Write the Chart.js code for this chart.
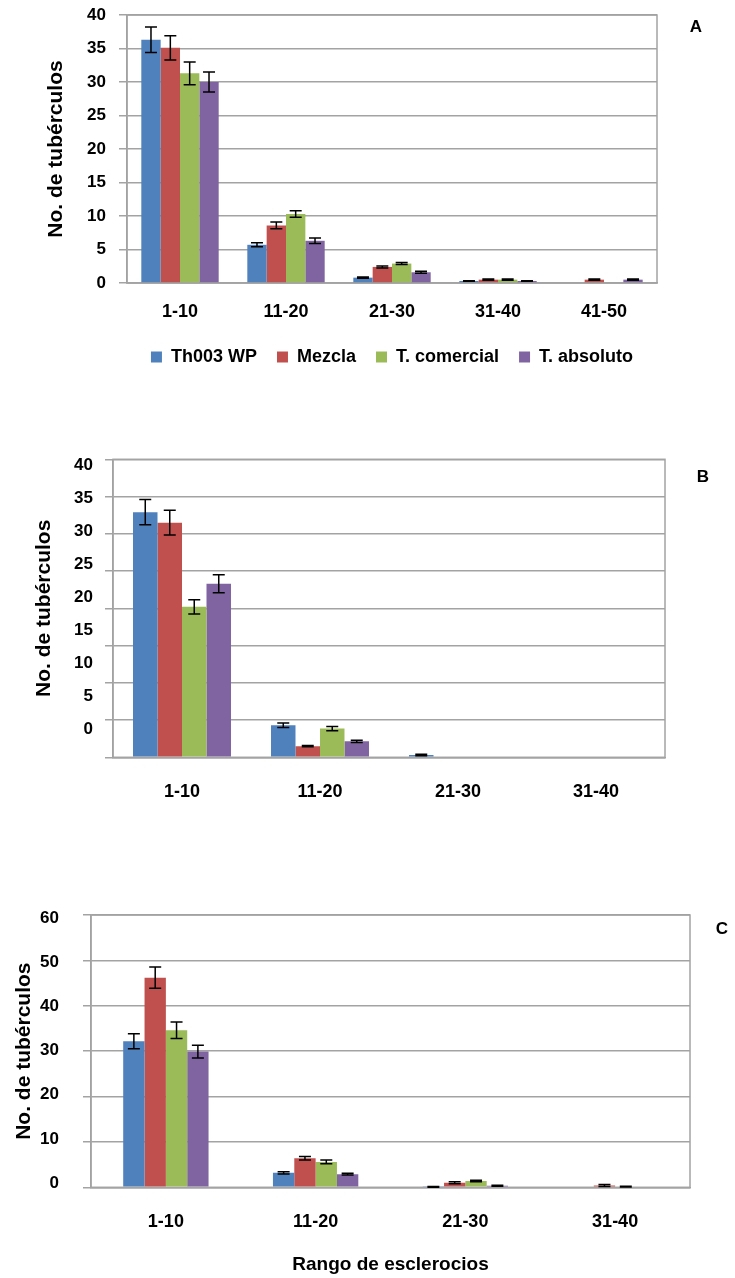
<!DOCTYPE html>
<html lang="es">
<head>
<meta charset="utf-8">
<title>No. de tubérculos por rango de esclerocios</title>
<script src="https://cdn.jsdelivr.net/npm/chart.js@4.4.1/dist/chart.umd.min.js"></script>
<style>
    html, body { margin: 0; padding: 0; background: #fff; }
    body { width: 735px; height: 1278px; position: relative; overflow: hidden; font-family: 'Liberation Sans', Arial, sans-serif; }
    canvas { position: absolute; left: 0; }
    #chartA { top: 0; }
    #chartB { top: 440px; }
    #chartC { top: 890px; }
    .panel { position: absolute; font-weight: bold; font-size: 17px; color: #000; transform: translate(-50%, -50%); }
</style>
</head>
<body>
<canvas id="chartA" width="735" height="385"></canvas>
<canvas id="chartB" width="735" height="380"></canvas>
<canvas id="chartC" width="735" height="388"></canvas>
<div class="panel" style="left:696px; top:27px;">A</div>
<div class="panel" style="left:703px; top:477px;">B</div>
<div class="panel" style="left:722px; top:929px;">C</div>

<script>
// Categories and series names
const rangesA = ['1-10', '11-20', '21-30', '31-40', '41-50'];
const rangesBC = ['1-10', '11-20', '21-30', '31-40'];
const seriesNames = ['Th003 WP', 'Mezcla', 'T. comercial', 'T. absoluto'];
const seriesColors = ['#4f81bd', '#c0504d', '#9bbb59', '#8064a2'];

// Panel A values and error bars
const th003A = [36.3, 5.7, 0.8, 0.3, 0];
const mezclaA = [35.1, 8.6, 2.4, 0.5, 0.5];
const comercialA = [31.3, 10.3, 2.9, 0.5, 0];
const absolutoA = [30.0, 6.3, 1.6, 0.3, 0.5];
const th003AErr = [1.9, 0.3, 0.1, 0.05, 0];
const mezclaAErr = [1.8, 0.5, 0.15, 0.1, 0.1];
const comercialAErr = [1.7, 0.5, 0.15, 0.1, 0];
const absolutoAErr = [1.5, 0.4, 0.15, 0.05, 0.1];

// Panel B
const th003B = [32.9, 4.3, 0.3, 0];
const mezclaB = [31.5, 1.5, 0, 0];
const comercialB = [20.2, 3.85, 0, 0];
const absolutoB = [23.3, 2.15, 0, 0];
const th003BErr = [1.7, 0.3, 0.1, 0];
const mezclaBErr = [1.65, 0.1, 0, 0];
const comercialBErr = [0.95, 0.3, 0, 0];
const absolutoBErr = [1.2, 0.15, 0, 0];

// Panel C
const th003C = [32.2, 3.2, 0.1, 0];
const mezclaC = [46.2, 6.4, 1.0, 0.4];
const comercialC = [34.6, 5.6, 1.4, 0.15];
const absolutoC = [29.9, 2.9, 0.35, 0];
const th003CErr = [1.65, 0.25, 0.1, 0];
const mezclaCErr = [2.35, 0.4, 0.2, 0.2];
const comercialCErr = [1.8, 0.4, 0.15, 0.1];
const absolutoCErr = [1.4, 0.2, 0.1, 0];

// Tick labels
const yTicksAB = [0, 5, 10, 15, 20, 25, 30, 35, 40];
const yTicksC = [0, 10, 20, 30, 40, 50, 60];

const FONT = "'Liberation Sans', Arial, Helvetica, sans-serif";
const gridColor = '#a3a3a3';

Chart.defaults.font.family = FONT;
Chart.defaults.color = '#000';

// Draws the plot area frame (right border in particular)
const framePlugin = {
    id: 'frame',
    beforeDatasetsDraw(chart) {
        const a = chart.chartArea;
        const ctx = chart.ctx;
        ctx.save();
        ctx.strokeStyle = gridColor;
        ctx.lineWidth = 1.5;
        ctx.strokeRect(a.left, a.top, a.right - a.left, a.bottom - a.top);
        ctx.restore();
    }
};

// Draws error bars from each dataset's "errors" array
const errorBarPlugin = {
    id: 'errorBars',
    afterDatasetsDraw(chart) {
        const ctx = chart.ctx;
        const yScale = chart.scales.y;
        ctx.save();
        ctx.strokeStyle = '#000';
        ctx.lineWidth = 1.5;
        chart.data.datasets.forEach((ds, i) => {
            const meta = chart.getDatasetMeta(i);
            meta.data.forEach((bar, j) => {
                const v = ds.data[j];
                const e = ds.errors[j];
                if (!e) return;
                const yTop = yScale.getPixelForValue(v + e);
                const yBot = yScale.getPixelForValue(Math.max(v - e, 0));
                const half = 6;
                ctx.beginPath();
                ctx.moveTo(bar.x, yTop);
                ctx.lineTo(bar.x, yBot);
                ctx.moveTo(bar.x - half, yTop);
                ctx.lineTo(bar.x + half, yTop);
                ctx.moveTo(bar.x - half, yBot);
                ctx.lineTo(bar.x + half, yBot);
                ctx.stroke();
            });
        });
        ctx.restore();
    }
};

document.addEventListener('DOMContentLoaded', function() {
    createChart('chartA', rangesA,
        [th003A, mezclaA, comercialA, absolutoA],
        [th003AErr, mezclaAErr, comercialAErr, absolutoAErr],
        {
            yMax: 40, ticks: yTicksAB, labelMin: 0, labelMax: 40,
            left: 127, tickPad: 13, titlePad: 44,
            padding: { top: 15, right: 78, bottom: 9, left: 0 },
            xHeight: 45, xPad: 18, catPct: 0.73, legend: true
        });

    createChart('chartB', rangesBC,
        [th003B, mezclaB, comercialB, absolutoB],
        [th003BErr, mezclaBErr, comercialBErr, absolutoBErr],
        {
            yMax: 40, ticks: yTicksAB, labelMin: -4.22, labelMax: 40.86,
            left: 113, tickPad: 12, titlePad: 32,
            padding: { top: 19.3, right: 70, bottom: 7.7, left: 0 },
            xHeight: 55, xPad: 24, catPct: 0.71, legend: false
        });

    createChart('chartC', rangesBC,
        [th003C, mezclaC, comercialC, absolutoC],
        [th003CErr, mezclaCErr, comercialCErr, absolutoCErr],
        {
            yMax: 60, ticks: yTicksC, labelMin: -0.93, labelMax: 60.68,
            left: 91, tickPad: 24, titlePad: 12,
            padding: { top: 25, right: 45, bottom: 0.7, left: 0 },
            xHeight: 90, xPad: 23.6, catPct: 0.57, legend: false,
            xTitle: 'Rango de esclerocios'
        });
});

function createChart(id, labels, values, errors, cfg) {
    const ctx = document.getElementById(id).getContext('2d');

    const datasets = seriesNames.map((name, i) => ({
        label: name,
        data: values[i],
        errors: errors[i],
        backgroundColor: seriesColors[i],
        borderWidth: 0,
        categoryPercentage: cfg.catPct,
        barPercentage: 1.0
    }));

    new Chart(ctx, {
        type: 'bar',
        data: { labels: labels, datasets: datasets },
        options: {
            responsive: false,
            devicePixelRatio: 1,
            animation: false,
            layout: { padding: cfg.padding },
            plugins: {
                tooltip: { enabled: false },
                legend: {
                    display: cfg.legend,
                    position: 'bottom',
                    fullSize: false,
                    labels: {
                        boxWidth: 11,
                        boxHeight: 11,
                        padding: 20,
                        color: '#000',
                        font: { size: 18, weight: 'bold' }
                    }
                }
            },
            scales: {
                x: {
                    grid: { display: false, drawTicks: false },
                    border: { display: true, color: gridColor, width: 1.5 },
                    ticks: {
                        padding: cfg.xPad,
                        maxRotation: 0,
                        autoSkip: false,
                        color: '#000',
                        font: { size: 18, weight: 'bold' }
                    },
                    title: {
                        display: !!cfg.xTitle,
                        text: cfg.xTitle || '',
                        color: '#000',
                        font: { size: 19, weight: 'bold' },
                        padding: { top: 0, bottom: 1.5 }
                    },
                    afterFit: function(scale) {
                        scale.height = cfg.xHeight;
                        scale.paddingLeft = 0;
                        scale.paddingRight = 0;
                    }
                },
                y: {
                    position: 'left',
                    weight: 0,
                    min: 0,
                    max: cfg.yMax,
                    afterBuildTicks: function(scale) {
                        scale.ticks = cfg.ticks.map(v => ({ value: v }));
                    },
                    afterFit: function(scale) { scale.width = 8; },
                    ticks: { display: false },
                    grid: { color: gridColor, lineWidth: 1.5, drawTicks: true, tickLength: 8 },
                    border: { display: true, color: gridColor, width: 1.5 }
                },
                // label axis: only tick labels and the title
                yl: {
                    position: 'left',
                    weight: 1,
                    min: cfg.labelMin,
                    max: cfg.labelMax,
                    afterBuildTicks: function(scale) {
                        scale.ticks = cfg.ticks.map(v => ({ value: v }));
                    },
                    afterFit: function(scale) {
                        scale.width = cfg.left - 8;
                        scale.paddingTop = 0;
                        scale.paddingBottom = 0;
                    },
                    grid: { display: false, drawTicks: false },
                    border: { display: false },
                    ticks: {
                        padding: cfg.tickPad,
                        color: '#000',
                        font: { size: 17, weight: 'bold' }
                    },
                    title: {
                        display: true,
                        text: 'No. de tubérculos',
                        color: '#000',
                        font: { size: 21, weight: 'bold' },
                        padding: { top: cfg.titlePad, bottom: 0 }
                    }
                }
            }
        },
        plugins: [framePlugin, errorBarPlugin]
    });
}
</script>
</body>
</html>
